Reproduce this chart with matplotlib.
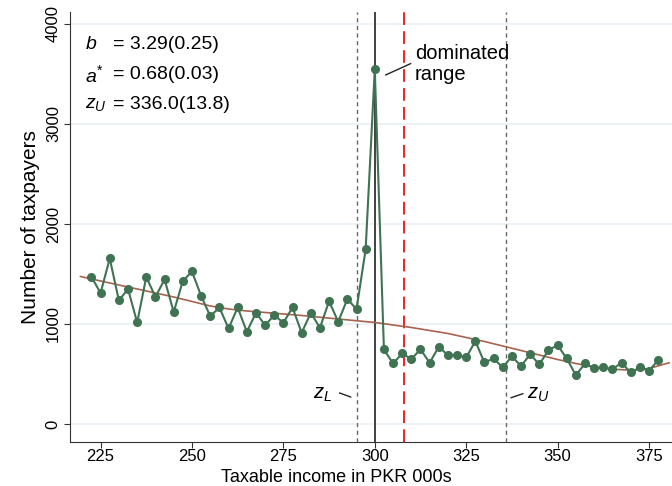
import numpy as np
import matplotlib
matplotlib.use("Agg")
import matplotlib.pyplot as plt

plt.rcParams['font.family'] = ['Liberation Sans', 'DejaVu Sans']
plt.rcParams['mathtext.fontset'] = 'custom'
plt.rcParams['mathtext.it'] = 'Liberation Sans:italic'
plt.rcParams['mathtext.rm'] = 'Liberation Sans'

# bins of taxable income (PKR 000s)
income = np.arange(222.5, 380, 2.5)
counts = [1470, 1310, 1655, 1235, 1350, 1015, 1470, 1270, 1445, 1120,
          1430, 1525, 1280, 1078, 1165, 955, 1165, 922, 1112, 988,
          1088, 1012, 1165, 912, 1112, 962, 1228, 1022, 1250, 1148,
          1745, 3545, 745, 605, 705, 648, 748, 612, 772, 688,
          688, 665, 828, 615, 655, 565, 678, 578, 698, 595,
          738, 788, 655, 488, 605, 555, 565, 548, 612, 515,
          565, 532, 638]

# counterfactual fit
fit_x = [219.5, 225, 230, 235, 240, 245, 250, 255, 260, 265, 270, 280, 290,
         300, 310, 320, 330, 340, 350, 355, 360, 365, 370, 375, 380.5]
fit_y = [1475, 1430, 1390, 1350, 1310, 1270, 1225, 1180, 1150, 1130, 1115,
         1085, 1050, 1015, 965, 905, 825, 735, 645, 605, 570, 548, 538, 555, 612]

z_L = 295
kink = 300
dom_end = 308
z_U = 336

fig = plt.figure(figsize=(6.72, 4.86), dpi=100)
ax = fig.add_axes([0.104, 0.0905, 0.896, 0.885])

for yv in [0, 1000, 2000, 3000, 4000]:
    ax.axhline(yv, color='#eaf0f5', lw=1.2, zorder=0)

ax.axvline(z_L, color='#666666', lw=1, ls=(0, (3, 2.5)), zorder=1)
ax.axvline(z_U, color='#666666', lw=1, ls=(0, (3, 2.5)), zorder=1)
ax.axvline(kink, color='#333333', lw=1.3, zorder=1)
ax.axvline(dom_end, color='#ee1111', lw=1.3, ls=(0, (7, 3.5)), zorder=1)

ax.plot(fit_x, fit_y, color='#a8634f', lw=1.2, zorder=2)
ax.plot(income, counts, color='#3f7352', lw=1.5, marker='o', ms=5.5, zorder=3)

ax.set_xlim(216.6, 381.3)
ax.set_ylim(-180, 4120)
ax.set_xticks([225, 250, 275, 300, 325, 350, 375])
ax.set_yticks([0, 1000, 2000, 3000, 4000])
for lab in ax.get_yticklabels():
    lab.set_rotation(90)
    lab.set_va('center')
ax.tick_params(labelsize=12, length=4, pad=1, color='#333333')
ax.tick_params(axis='y', pad=2.5)
ax.spines['top'].set_visible(False)
ax.spines['right'].set_visible(False)
ax.spines['left'].set_color('#333333')
ax.spines['bottom'].set_color('#333333')
ax.set_xlabel("Taxable income in PKR 000s", fontsize=13, va='bottom')
ax.xaxis.set_label_coords(0.5, 0.0005, transform=fig.transFigure)
ax.set_ylabel("Number of taxpayers", fontsize=15, labelpad=4)

# estimates
ax.text(220.6, 3790, r"$b$", fontsize=14, va='center')
ax.text(220.6, 3490, r"$a^{*}$", fontsize=14, va='center')
ax.text(220.6, 3190, r"$z_U$", fontsize=14, va='center')
ax.text(228.3, 3790, "= 3.29(0.25)", fontsize=14, va='center')
ax.text(228.3, 3490, "= 0.68(0.03)", fontsize=14, va='center')
ax.text(228.3, 3190, "= 336.0(13.8)", fontsize=14, va='center')

ax.text(310.9, 3600, "dominated\nrange", fontsize=14.5, va='center', linespacing=1.1)
ax.plot([303, 309.8], [3490, 3603], color='#222222', lw=1)

ax.text(288.2, 300, r"$z_L$", fontsize=14.5, va='center', ha='right')
ax.plot([290.4, 293.4], [310, 270], color='#222222', lw=1)
ax.text(341.6, 300, r"$z_U$", fontsize=14.5, va='center', ha='left')
ax.plot([337.3, 340.5], [263, 303], color='#222222', lw=1)

fig.savefig("out.png", dpi=100)
